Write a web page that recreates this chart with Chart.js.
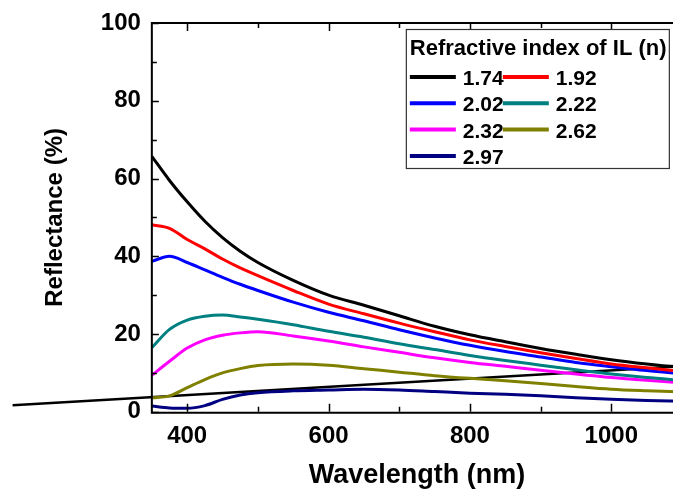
<!DOCTYPE html>
<html>
<head>
<meta charset="utf-8">
<script src="https://cdn.jsdelivr.net/npm/chart.js@4/dist/chart.umd.min.js"></script>
<style>
  html, body { margin: 0; padding: 0; background: #fff; overflow: hidden; }
  #wrap { width: 690px; height: 492px; }
</style>
</head>
<body>
<div id="wrap"><canvas id="myChart" width="690" height="492"></canvas></div>
<script>
var wavelength = [350, 375, 400, 425, 450, 475, 500, 550, 600, 650, 700, 750, 800, 850, 900, 950, 1000, 1050, 1100];
var n174 = [65.7, 59.5, 54.0, 49.0, 44.8, 41.3, 38.4, 33.8, 30.0, 27.4, 24.7, 22.0, 19.8, 18.0, 16.3, 14.8, 13.4, 12.3, 11.4];
var n192 = [48.1, 47.2, 44.3, 41.9, 39.3, 37.0, 35.0, 31.2, 27.7, 25.2, 22.8, 20.6, 18.5, 16.8, 15.2, 13.7, 12.3, 11.3, 10.4];
var n202 = [38.7, 40.0, 38.4, 36.5, 34.6, 32.8, 31.2, 28.2, 25.6, 23.4, 21.1, 19.0, 17.1, 15.5, 14.1, 12.7, 11.6, 10.6, 9.8];
var n222 = [16.5, 21.2, 23.6, 24.6, 24.9, 24.4, 23.8, 22.4, 20.7, 19.2, 17.5, 16.0, 14.5, 13.2, 12.0, 10.8, 9.7, 8.8, 8.1];
var n232 = [9.4, 13.0, 16.4, 18.5, 19.7, 20.3, 20.6, 19.5, 18.2, 16.7, 15.3, 13.9, 12.7, 11.7, 10.7, 9.7, 8.8, 8.1, 7.5];
var n262 = [3.6, 4.1, 6.2, 8.3, 10.0, 11.1, 11.9, 12.3, 12.0, 11.1, 10.2, 9.3, 8.6, 8.0, 7.3, 6.5, 5.8, 5.4, 5.1];
var n297 = [1.5, 1.0, 0.9, 1.6, 3.2, 4.3, 4.9, 5.4, 5.6, 5.8, 5.6, 5.2, 4.8, 4.5, 4.1, 3.6, 3.2, 2.9, 2.7];
// straight black line that runs out past the left axis
var strayX = [153, 1100];
var strayY = [1.7, 11.7];

var seriesNames = ["1.74", "1.92", "2.02", "2.22", "2.32", "2.62", "2.97"];
var seriesValues = [n174, n192, n202, n222, n232, n262, n297];
var seriesColors = ["#000000", "#ff0000", "#0000ff", "#008080", "#ff00ff", "#808000", "#000080"];

var xTickValues = [400, 600, 800, 1000];
var xMinorValues = [500, 700, 900, 1100];
var yTickValues = [0, 20, 40, 60, 80, 100];
var yMinorValues = [10, 30, 50, 70, 90];

var legendTitle = "Refractive index of IL (n)";
var FONT = "'Liberation Sans', Arial, sans-serif";

function toPoints(xs, ys){
  var pts = [];
  for(var i = 0; i < xs.length; i++){
    pts.push({x: xs[i], y: ys[i]});
  }
  return pts;
}

var datasets = [];
for(var i = 0; i < seriesNames.length; i++){
  datasets.push({
    label: seriesNames[i],
    data: toPoints(wavelength, seriesValues[i]),
    borderColor: seriesColors[i],
    backgroundColor: seriesColors[i],
    borderWidth: 3,
    pointRadius: 0,
    fill: false,
    cubicInterpolationMode: 'monotone'
  });
}
datasets.push({
  label: "stray",
  data: toPoints(strayX, strayY),
  borderColor: "#000000",
  borderWidth: 2.5,
  pointRadius: 0,
  fill: false,
  clip: false
});

var framePlugin = {
  id: 'frame',
  afterDraw: function(chart){
    var ctx = chart.ctx;
    var ca = chart.chartArea;
    var xs = chart.scales.x;
    var ys = chart.scales.y;
    ctx.save();
    ctx.strokeStyle = "#000";
    ctx.lineWidth = 2;
    ctx.beginPath();
    ctx.moveTo(ca.left, ca.top);
    ctx.lineTo(ca.right, ca.top);
    ctx.moveTo(ca.left, ca.top - 1);
    ctx.lineTo(ca.left, ca.bottom + 1);
    ctx.lineTo(ca.right, ca.bottom + 1);
    ctx.stroke();
    ctx.lineWidth = 1.5;
    ctx.beginPath();
    function xTick(v, len){
      var px = Math.round(xs.getPixelForValue(v)) + 0.5;
      ctx.moveTo(px, ca.bottom);
      ctx.lineTo(px, ca.bottom - len);
      ctx.moveTo(px, ca.top);
      ctx.lineTo(px, ca.top + len);
    }
    function yTick(v, len){
      var py = Math.round(ys.getPixelForValue(v)) + 0.5;
      ctx.moveTo(ca.left, py);
      ctx.lineTo(ca.left + len, py);
    }
    xTickValues.forEach(function(v){ xTick(v, 8); });
    xMinorValues.forEach(function(v){ xTick(v, 5); });
    yTickValues.forEach(function(v){ yTick(v, 7); });
    yMinorValues.forEach(function(v){ yTick(v, 5); });
    ctx.stroke();
    ctx.restore();
  }
};

var legendPlugin = {
  id: 'boxLegend',
  afterDraw: function(chart){
    var ctx = chart.ctx;
    var ca = chart.chartArea;
    var left = ca.left + 254, top = ca.top + 6, w = 263, h = 139;
    ctx.save();
    ctx.fillStyle = "#fff";
    ctx.fillRect(left, top, w, h);
    ctx.strokeStyle = "#333";
    ctx.lineWidth = 1.2;
    ctx.strokeRect(left + 0.5, top + 0.5, w, h);
    ctx.fillStyle = "#000";
    ctx.textBaseline = "alphabetic";
    ctx.font = "bold 22px " + FONT;
    ctx.fillText(legendTitle, left + 4, top + 26);
    ctx.font = "bold 21px " + FONT;
    for(var i = 0; i < seriesNames.length; i++){
      var col = i % 2, row = Math.floor(i / 2);
      var x0 = left + 4 + col * 93;
      var y0 = top + 48 + row * 26.3;
      ctx.strokeStyle = seriesColors[i];
      ctx.lineWidth = 4;
      ctx.beginPath();
      ctx.moveTo(x0, y0);
      ctx.lineTo(x0 + 46, y0);
      ctx.stroke();
      ctx.fillStyle = "#000";
      ctx.fillText(seriesNames[i], x0 + 53, y0 + 8);
    }
    ctx.restore();
  }
};

var ctx = document.getElementById('myChart');
var myChart = new Chart(ctx, {
  type: 'line',
  data: { datasets: datasets },
  options: {
    responsive: false,
    animation: false,
    layout: { padding: { left: 10, top: 22, right: 8, bottom: 0 } },
    plugins: {
      legend: { display: false },
      tooltip: { enabled: false }
    },
    scales: {
      x: {
        type: 'linear',
        min: 350,
        max: 1100,
        grid: { display: false, drawTicks: false },
        border: { display: false },
        afterBuildTicks: function(s){ s.ticks = xTickValues.map(function(v){ return {value: v}; }); },
        ticks: {
          color: "#000",
          padding: 10,
          maxRotation: 0,
          callback: function(v){ return String(v); },
          font: { family: FONT, size: 24, weight: 'bold' }
        },
        title: {
          display: true,
          text: "Wavelength (nm)",
          color: "#000",
          font: { family: FONT, size: 27, weight: 'bold' },
          padding: { top: -1, bottom: 0 }
        }
      },
      y: {
        type: 'linear',
        min: 0,
        max: 100,
        grid: { display: false, drawTicks: false },
        border: { display: false },
        afterBuildTicks: function(s){ s.ticks = yTickValues.map(function(v){ return {value: v}; }); },
        ticks: {
          color: "#000",
          padding: 11,
          callback: function(v){ return String(v); },
          font: { family: FONT, size: 24, weight: 'bold', lineHeight: 1.0 }
        },
        title: {
          display: true,
          text: "Reflectance (%)",
          color: "#000",
          font: { family: FONT, size: 24, weight: 'bold' },
          padding: { top: 31, bottom: 20 }
        }
      }
    }
  },
  plugins: [framePlugin, legendPlugin]
});
</script>
</body>
</html>
